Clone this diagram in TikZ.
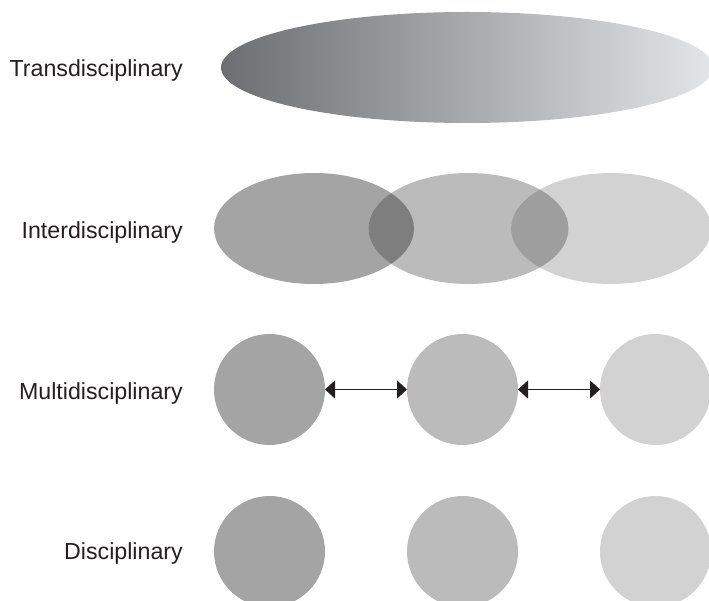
\documentclass[tikz,border=0pt]{standalone}
\usepackage{fontspec}
\setmainfont{Liberation Sans}
\usetikzlibrary{arrows.meta,shapes.geometric}

\definecolor{inkdark}{HTML}{231F20}
\definecolor{greyA}{HTML}{A5A4A5}
\definecolor{greyB}{HTML}{BBBBBB}
\definecolor{greyC}{HTML}{D2D2D2}
\definecolor{overlapAB}{HTML}{7F7E7F}
\definecolor{overlapBC}{HTML}{9F9E9F}
\definecolor{shadeL}{HTML}{6D6E72}
\definecolor{shadeR}{HTML}{E4E5E6}

\tikzset{
  rowlabel/.style={anchor=base east, inner sep=0pt, text=inkdark,
    font=\fontsize{23.2}{26}\selectfont},
  disc/.style={circle, inner sep=0pt, outer sep=0pt, minimum size=111pt, draw=none},
  blob/.style={ellipse, inner sep=0pt, outer sep=0pt, minimum width=200pt,
    minimum height=111pt, draw=none},
  link/.style={draw=inkdark, line width=1.2pt,
    {Triangle[length=10pt,width=18pt]}-{Triangle[length=10pt,width=18pt]}},
}

\begin{document}
\begin{tikzpicture}[x=1pt, y=-1pt]
  \clip (0,0) rectangle (709,601);
  \useasboundingbox (0,0) rectangle (709,601);

  % row labels
  \node[rowlabel] (lt) at (183,76.7)  {Transdisciplinary};
  \node[rowlabel] (li) at (183,238.3) {Interdisciplinary};
  \node[rowlabel] (lm) at (183,399.3) {Multidisciplinary};
  \node[rowlabel] (ld) at (183,559.5) {Disciplinary};

  % transdisciplinary: one wide shaded ellipse
  \node[ellipse, inner sep=0pt, minimum width=492pt, minimum height=111pt,
        left color=shadeL, right color=shadeR, draw=none] (t) at (467,67.5) {};

  % interdisciplinary: three overlapping ellipses
  \node[blob, fill=greyA] (i1) at (314,228.5) {};
  \node[blob, fill=greyB] (i2) at (468.5,228.5) {};
  \node[blob, fill=greyC] (i3) at (611,228.5) {};
  \begin{scope}
    \clip (314,228.5) ellipse [x radius=100, y radius=55.5];
    \fill[overlapAB] (468.5,228.5) ellipse [x radius=100, y radius=55.5];
  \end{scope}
  \begin{scope}
    \clip (468.5,228.5) ellipse [x radius=100, y radius=55.5];
    \fill[overlapBC] (611,228.5) ellipse [x radius=100, y radius=55.5];
  \end{scope}

  % multidisciplinary: linked circles
  \node[disc, fill=greyA] (m1) at (269.5,389.5) {};
  \node[disc, fill=greyB] (m2) at (462.5,389.5) {};
  \node[disc, fill=greyC] (m3) at (655.5,389.5) {};
  \draw[link] (m1) -- (m2);
  \draw[link] (m2) -- (m3);

  % disciplinary: separate circles
  \node[disc, fill=greyA] (d1) at (269.5,551.5) {};
  \node[disc, fill=greyB] (d2) at (462.5,551.5) {};
  \node[disc, fill=greyC] (d3) at (655.5,551.5) {};
\end{tikzpicture}
\end{document}
